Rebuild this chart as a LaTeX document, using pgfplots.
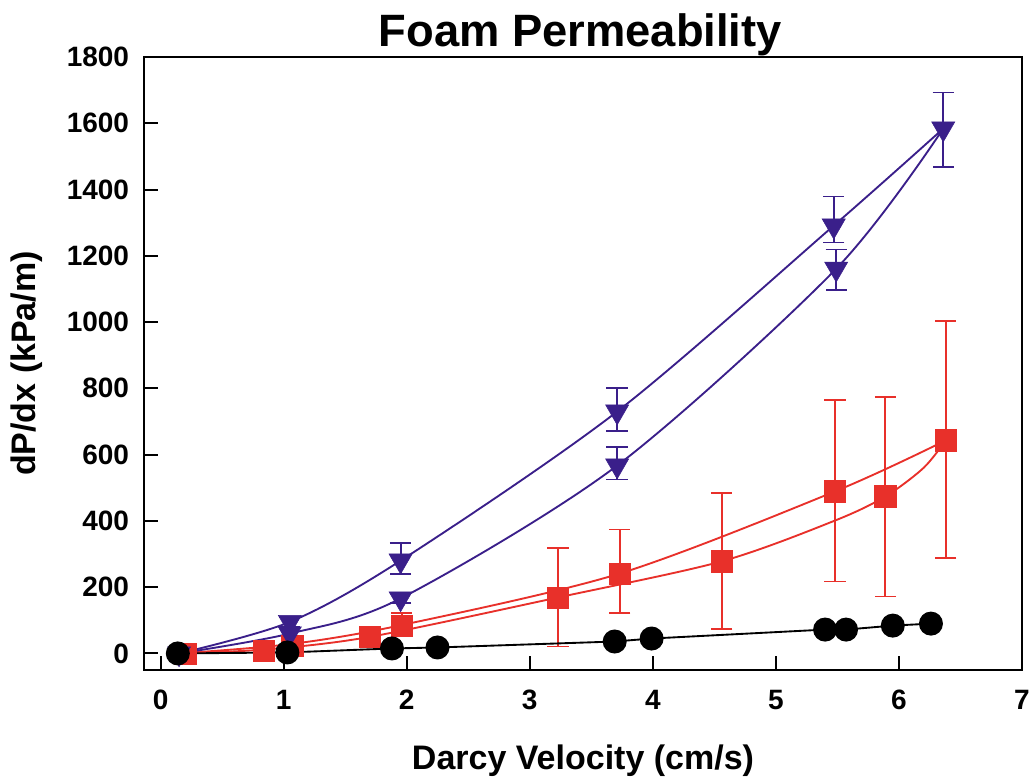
\documentclass[border=0pt]{standalone}
\usepackage{pgfplots}
\pgfplotsset{compat=1.18}
\usepackage{fontspec}
\setmainfont{Liberation Sans}
\definecolor{myblue}{HTML}{3A1F8A}
\definecolor{myred}{HTML}{E8302A}
\begin{document}
\begin{tikzpicture}
\begin{axis}[
  name=ax,
  scale only axis,
  width=658.5pt, height=459.75pt,
  xmin=-0.135, xmax=7, ymin=-50, ymax=1800,
  xtick={0,1,...,7}, ytick={0,200,...,1800},
  tick align=inside, xtick pos=bottom, ytick pos=left,
  major tick length=10.5pt,
  axis line style={line width=1.5pt},
  tick style={line width=1.5pt, black},
  /pgf/number format/assume math mode=true,
  /pgf/number format/set thousands separator={},
  ticklabel style={font=\fontsize{21pt}{23pt}\selectfont\bfseries, inner sep=0pt},
  xticklabel style={anchor=north, yshift=-15pt},
  yticklabel style={anchor=east, xshift=-11pt},
  title={\fontsize{34pt}{36pt}\selectfont\bfseries Foam Permeability},
  title style={at={(axis description cs:0.5,1)}, anchor=base, yshift=1.5pt, xshift=-2pt, inner sep=0pt},
  xlabel={\fontsize{25.5pt}{28pt}\selectfont\bfseries Darcy Velocity (cm/s)},
  ylabel={\fontsize{25.5pt}{28pt}\selectfont\bfseries dP/dx (kPa/m)},
  xlabel style={at={(axis description cs:0.5,0)}, anchor=base, yshift=-74.5pt, inner sep=0pt},
  ylabel style={at={(axis description cs:0,0.5)}, anchor=south, yshift=75.75pt, inner sep=0pt},
  clip=false,
]
% red fit lines
\addplot[myred, line width=1.4pt, smooth] coordinates {(0.15,0) (1.05,28) (1.95,85) (3.73,241) (5.48,489) (6.38,643)};
\addplot[myred, line width=1.4pt, smooth] coordinates {(0.15,0) (0.85,12) (1.7,50) (3.23,169) (4.56,278) (5.48,401) (5.89,474) (6.2,560) (6.38,643)};
% red squares with error bars
\addplot[only marks, mark=square*, mark size=8pt, color=myred,
  error bars/.cd, y dir=both, y explicit,
  error bar style={line width=1.4pt, myred},
  error mark options={rotate=90, mark size=8pt, line width=1.4pt, myred}]
coordinates {
(0.2,0)
(0.84,9)
(1.07,24)
(1.70,51)
(1.96,84) += (0,38) -= (0,30)
(3.23,169) += (0,148) -= (0,148)
(3.73,241) += (0,133) -= (0,120)
(4.56,278) += (0,205) -= (0,203)
(5.48,489) += (0,277) -= (0,272)
(5.89,474) += (0,301) -= (0,302)
(6.38,643) += (0,359) -= (0,356)
};
% blue fit lines
\addplot[myblue, line width=1.4pt, smooth] coordinates {(0.15,0) (1.05,95) (1.95,280) (3.71,730) (5.47,1291) (6.36,1584)};
\addplot[myblue, line width=1.4pt, smooth] coordinates {(0.15,0) (1.05,60) (1.95,166) (3.71,567) (5.49,1161) (6.36,1584)};
% blue triangles
\addplot[only marks, mark=triangle*, mark size=10pt, mark options={rotate=180}, color=myblue,
  error bars/.cd, y dir=both, y explicit,
  error bar style={line width=1.4pt, myblue},
  error mark options={rotate=90, mark size=8pt, line width=1.4pt, myblue}]
coordinates {
(0.15,0)
(1.05,95) += (0,15) -= (0,15)
(1.05,60)
(1.95,280) += (0,53) -= (0,39)
(1.95,166) += (0,15) -= (0,15)
(3.71,730) += (0,70) -= (0,60)
(3.71,567) += (0,55) -= (0,42)
(5.47,1291) += (0,88) -= (0,51)
(5.49,1161) += (0,58) -= (0,63)
(6.36,1584) += (0,109) -= (0,115)
};
% black circles
\addplot[black, line width=1.4pt, mark=*, mark size=8.3pt, mark options={fill=black}] coordinates {
(0.14,0) (1.03,3) (1.88,15) (2.25,18) (3.69,36) (3.99,45) (5.40,72) (5.57,72) (5.95,84) (6.26,90)};
\end{axis}
\pgfresetboundingbox
\path ([xshift=-108pt,yshift=-81pt]ax.south west) rectangle ([xshift=5.25pt,yshift=42.75pt]ax.north east);
\end{tikzpicture}
\end{document}
